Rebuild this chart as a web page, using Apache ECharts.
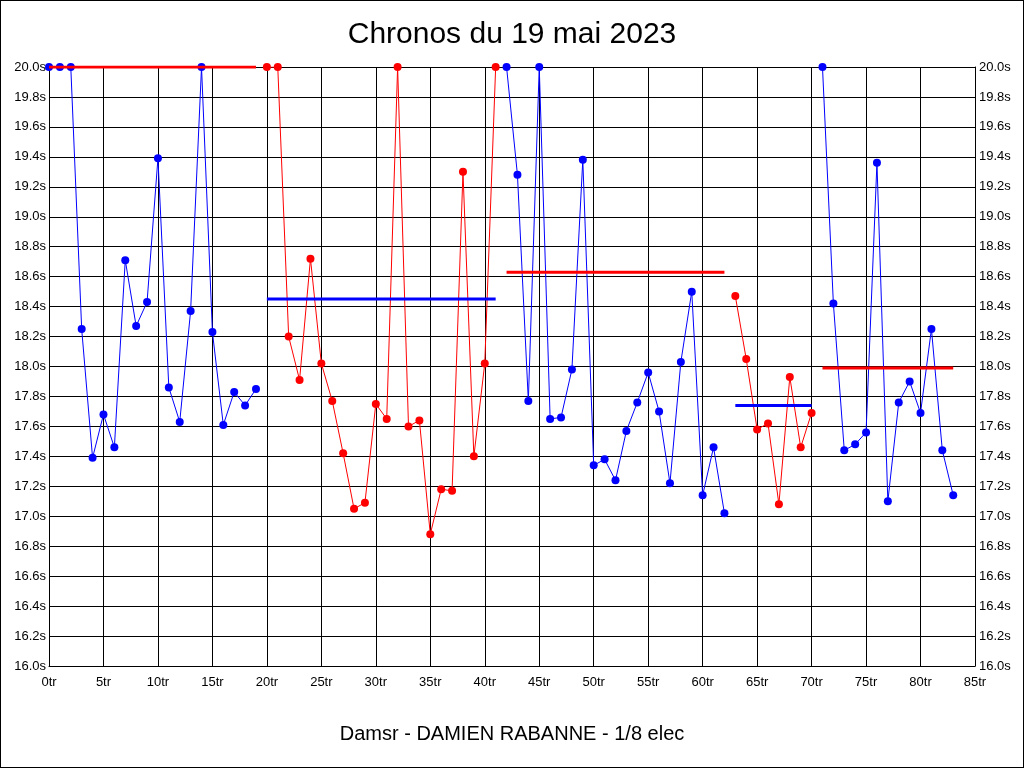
<!DOCTYPE html>
<html>
<head>
<meta charset="utf-8">
<script src="https://cdn.jsdelivr.net/npm/echarts@6/dist/echarts.min.js"></script>
<style>
  html, body { margin: 0; padding: 0; background: #fff; }
  #chart { width: 1024px; height: 768px; box-sizing: border-box; border: 1px solid #000; }
</style>
</head>
<body>
<div id="chart"></div>
<script>
// Lap times (seconds) per segment, with the lap index at which each segment starts
const seg1Start = 0;
const seg1 = [20.0, 20.0, 20.0, 18.25, 17.39, 17.68, 17.46, 18.71, 18.27, 18.43, 19.39, 17.86, 17.63, 18.37, 20.0, 18.23, 17.61, 17.83, 17.74, 17.85];
const seg2Start = 20;
const seg2 = [20.0, 20.0, 18.2, 17.91, 18.72, 18.02, 17.77, 17.42, 17.05, 17.09, 17.75, 17.65, 20.0, 17.60, 17.64, 16.88, 17.18, 17.17, 19.30, 17.40, 18.02, 20.0];
const seg3Start = 42;
const seg3 = [20.0, 19.28, 17.77, 20.0, 17.65, 17.66, 17.98, 19.38, 17.34, 17.38, 17.24, 17.57, 17.76, 17.96, 17.70, 17.22, 18.03, 18.50, 17.14, 17.46, 17.02];
const seg4Start = 63;
const seg4 = [18.47, 18.05, 17.58, 17.62, 17.08, 17.93, 17.46, 17.69];
const seg5Start = 71;
const seg5 = [20.0, 18.42, 17.44, 17.48, 17.56, 19.36, 17.10, 17.76, 17.90, 17.69, 18.25, 17.44, 17.14];

// Horizontal reference lines: [fromLap, toLap, value]
const refLines = [
  [0, 19, 20.0],
  [20, 41, 18.45],
  [42, 62, 18.63],
  [63, 70, 17.74],
  [71, 83, 17.99]
];

const xTicks = { min: 0, max: 85, step: 5, suffix: 'tr' };
const yTicks = { min: 16.0, max: 20.0, step: 0.2, suffix: 's' };

const BLUE = '#0000ff';
const RED = '#ff0000';

const segments = [
  [seg1Start, seg1, BLUE],
  [seg2Start, seg2, RED],
  [seg3Start, seg3, BLUE],
  [seg4Start, seg4, RED],
  [seg5Start, seg5, BLUE]
];
const refColors = [RED, BLUE, RED, BLUE, RED];

const series = [];
segments.forEach(([start, vals, color]) => {
  series.push({
    type: 'line',
    data: vals.map((v, i) => [start + i, v]),
    symbol: 'circle',
    symbolSize: 8,
    showSymbol: true,
    lineStyle: { color: color, width: 1 },
    itemStyle: { color: color },
    animation: false,
    z: 3
  });
});
refLines.forEach(([a, b, v], k) => {
  series.push({
    type: 'line',
    data: [[a, v], [b, v]],
    symbol: 'none',
    lineStyle: { color: refColors[k], width: 3 },
    animation: false,
    z: 4
  });
});

const labelFont = { fontFamily: 'Liberation Sans, Arial, sans-serif', fontSize: 13, color: '#000' };

const chart = echarts.init(document.getElementById('chart'), null, { renderer: 'canvas' });
chart.setOption({
  backgroundColor: '#fff',
  animation: false,
  title: {
    text: 'Chronos du 19 mai 2023',
    left: 'center',
    top: 14,
    textStyle: { fontFamily: 'Liberation Sans, Arial, sans-serif', fontSize: 30, fontWeight: 'normal', color: '#000' }
  },
  grid: { left: 48, right: 48, top: 66, bottom: 101, containLabel: false, show: false },
  xAxis: {
    type: 'value',
    min: xTicks.min, max: xTicks.max, interval: xTicks.step,
    name: 'Damsr - DAMIEN RABANNE - 1/8 elec',
    nameLocation: 'middle',
    nameGap: 58,
    nameTextStyle: { fontFamily: 'Liberation Sans, Arial, sans-serif', fontSize: 20, color: '#000' },
    axisLine: { show: true, onZero: false, lineStyle: { color: '#000', width: 1 } },
    axisTick: { show: false },
    axisLabel: Object.assign({ formatter: v => v + xTicks.suffix, margin: 10 }, labelFont),
    splitLine: { show: true, lineStyle: { color: '#000', width: 1 } }
  },
  yAxis: [
    {
      type: 'value',
      min: yTicks.min, max: yTicks.max, interval: yTicks.step,
      position: 'left',
      axisLine: { show: true, lineStyle: { color: '#000', width: 1 } },
      axisTick: { show: false },
      axisLabel: Object.assign({ formatter: v => v.toFixed(1) + yTicks.suffix, margin: 3 }, labelFont),
      splitLine: { show: true, lineStyle: { color: '#000', width: 1 } }
    },
    {
      type: 'value',
      min: yTicks.min, max: yTicks.max, interval: yTicks.step,
      position: 'right',
      axisLine: { show: true, lineStyle: { color: '#000', width: 1 } },
      axisTick: { show: false },
      axisLabel: Object.assign({ formatter: v => v.toFixed(1) + yTicks.suffix, margin: 4 }, labelFont),
      splitLine: { show: false }
    }
  ],
  series: series
});
</script>
</body>
</html>
